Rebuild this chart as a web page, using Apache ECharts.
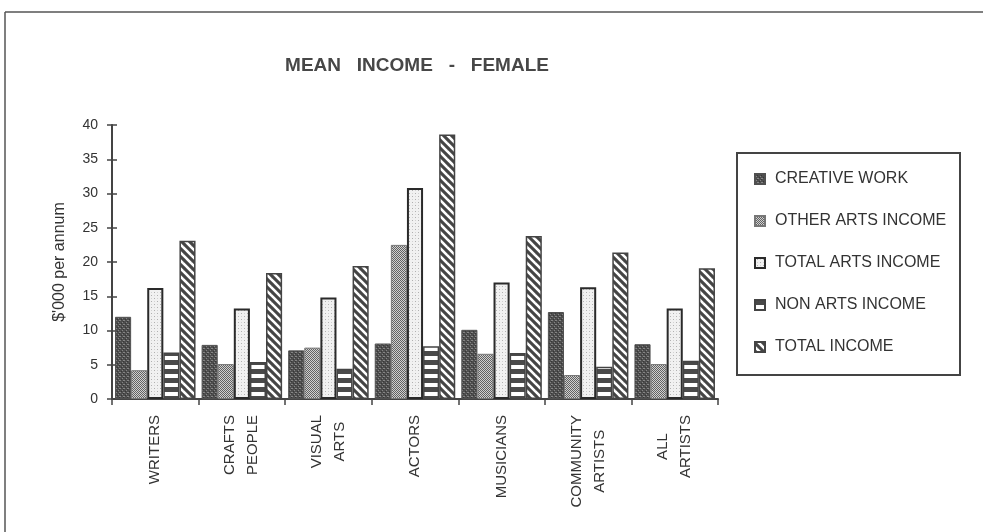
<!DOCTYPE html>
<html><head><meta charset="utf-8">
<script src="https://cdn.jsdelivr.net/npm/echarts@6/dist/echarts.min.js"></script>
<style>html,body{margin:0;padding:0;background:#fff}#c{width:983px;height:532px}</style>
</head><body><div id="c"></div>
<script>
// ---- data ----
const categories = ['WRITERS', 'CRAFTS\nPEOPLE', 'VISUAL\nARTS', 'ACTORS', 'MUSICIANS', 'COMMUNITY\nARTISTS', 'ALL\nARTISTS'];
const seriesNames = ['CREATIVE WORK', 'OTHER ARTS INCOME', 'TOTAL ARTS INCOME', 'NON ARTS INCOME', 'TOTAL INCOME'];
const creativeWork    = [12.0, 7.9, 7.1, 8.1, 10.1, 12.7, 8.0];
const otherArtsIncome = [4.2, 5.1, 7.5, 22.5, 6.6, 3.5, 5.1];
const totalArtsIncome = [16.2, 13.2, 14.8, 30.8, 17.0, 16.3, 13.2];
const nonArtsIncome   = [6.8, 5.4, 4.4, 7.7, 6.7, 4.7, 5.6];
const totalIncome     = [23.1, 18.4, 19.4, 38.6, 23.8, 21.4, 19.1];
const yMin = 0, yMax = 40, yStep = 5;
const titleText = 'MEAN   INCOME   -   FEMALE';
const yAxisName = "$'000 per annum";

// ---- patterns ----
function makeCanvas(w, h, draw) {
  const c = document.createElement('canvas');
  c.width = w; c.height = h;
  draw(c.getContext('2d'));
  return c;
}
function px(ctx, col, pts) { ctx.fillStyle = col; pts.forEach(p => ctx.fillRect(p[0], p[1], 1, 1)); }
const patCreative = makeCanvas(4, 4, ctx => {
  ctx.fillStyle = '#4e4e4e'; ctx.fillRect(0, 0, 4, 4);
  px(ctx, '#858585', [[0, 0], [2, 2], [3, 0]]);
  px(ctx, '#363636', [[1, 3], [3, 1]]);
});
const patOther = makeCanvas(4, 4, ctx => {
  ctx.fillStyle = '#d0d0d0'; ctx.fillRect(0, 0, 4, 4);
  px(ctx, '#626262', [[0, 0], [2, 0], [1, 1], [3, 1], [0, 2], [2, 2], [3, 3], [1, 3]]);
});
const patTotalArts = makeCanvas(6, 6, ctx => {
  ctx.fillStyle = '#f1f1f1'; ctx.fillRect(0, 0, 6, 6);
  px(ctx, '#b0b0b0', [[1, 1], [4, 4]]);
  px(ctx, '#d2d2d2', [[4, 1], [1, 4]]);
});
const patNonArts = makeCanvas(8, 9, ctx => {
  ctx.fillStyle = '#ffffff'; ctx.fillRect(0, 0, 8, 9);
  ctx.fillStyle = '#4a4a4a'; ctx.fillRect(0, 0, 8, 5);
});
const patTotal = makeCanvas(8, 8, ctx => {
  ctx.fillStyle = '#454545'; ctx.fillRect(0, 0, 8, 8);
  ctx.strokeStyle = '#ffffff'; ctx.lineWidth = 2.6;
  [-8, 0, 8].forEach(c => { ctx.beginPath(); ctx.moveTo(-2, -2 + c); ctx.lineTo(10, 10 + c); ctx.stroke(); });
});

const styles = [
  { color: { image: patCreative, repeat: 'repeat' }, borderColor: '#505050', borderWidth: 1 },
  { color: { image: patOther, repeat: 'repeat' }, borderColor: '#777', borderWidth: 1 },
  { color: { image: patTotalArts, repeat: 'repeat' }, borderColor: '#2a2a2a', borderWidth: 2 },
  { color: { image: patNonArts, repeat: 'repeat' }, borderColor: '#444', borderWidth: 1.5 },
  { color: { image: patTotal, repeat: 'repeat' }, borderColor: '#444', borderWidth: 1.5 }
];
const seriesData = [creativeWork, otherArtsIncome, totalArtsIncome, nonArtsIncome, totalIncome];

const FONT = "'Liberation Sans', Arial, Helvetica, sans-serif";
const chart = echarts.init(document.getElementById('c'), null, { renderer: 'canvas' });
chart.setOption({
  animation: false,
  backgroundColor: '#ffffff',
  title: {
    text: titleText, left: 417, top: 56, textAlign: 'center', padding: 0,
    textStyle: { fontFamily: FONT, fontSize: 19, fontWeight: 'bold', color: '#474747' }
  },
  legend: {
    orient: 'vertical', left: 754, top: 170, padding: 0,
    itemWidth: 20, itemHeight: 10, itemGap: 24,
    icon: 'path://M0,0L10,0L10,10L0,10Z',
    textStyle: { fontFamily: FONT, fontSize: 16, lineHeight: 18, color: '#333' },
    data: seriesNames
  },
  grid: { left: 112, top: 125, right: 265, bottom: 133, containLabel: false },
  xAxis: {
    type: 'category', data: categories,
    axisLine: { show: true, lineStyle: { color: '#444', width: 2 } },
    axisTick: { show: true, length: 6, lineStyle: { color: '#444', width: 1.5 } },
    axisLabel: {
      rotate: 90, margin: 16, interval: 0,
      formatter: v => v.split('\n').map(s => '{c|' + s + '}').join('\n'),
      rich: { c: { align: 'center', fontFamily: FONT, fontSize: 15, lineHeight: 23, color: '#333' } }
    },
    splitLine: { show: false }
  },
  yAxis: [{
    type: 'value', min: yMin, max: yMax, interval: yStep,
    name: yAxisName, nameLocation: 'middle', nameGap: 44, nameRotate: 90,
    nameTextStyle: { fontFamily: FONT, fontSize: 16, color: '#333' },
    axisLine: { show: true, lineStyle: { color: '#444', width: 2 } },
    axisTick: { show: true, length: 5, lineStyle: { color: '#444', width: 1.5 } },
    axisLabel: { margin: 14, fontFamily: FONT, fontSize: 14, color: '#333' },
    splitLine: { show: false }
  }, {
    type: 'value', min: yMin, max: yMax, interval: yStep, position: 'left',
    axisLine: { show: false },
    axisTick: { show: true, inside: true, length: 5, lineStyle: { color: '#444', width: 1.5 } },
    axisLabel: { show: false },
    splitLine: { show: false }
  }],
  graphic: [
    { type: 'line', shape: { x1: 5, y1: 12, x2: 5, y2: 532 }, style: { stroke: '#555', lineWidth: 1.5 } },
    { type: 'line', shape: { x1: 5, y1: 12, x2: 983, y2: 12 }, style: { stroke: '#555', lineWidth: 1.5 } },
    { type: 'rect', shape: { x: 737, y: 153, width: 223, height: 222 }, style: { fill: 'none', stroke: '#444', lineWidth: 2 } }
  ],
  series: seriesNames.map((n, i) => ({
    name: n, type: 'bar', data: seriesData[i], yAxisIndex: 0,
    barGap: '0%', barCategoryGap: '7%',
    itemStyle: styles[i],
    emphasis: { disabled: true }
  }))
});
</script></body></html>
